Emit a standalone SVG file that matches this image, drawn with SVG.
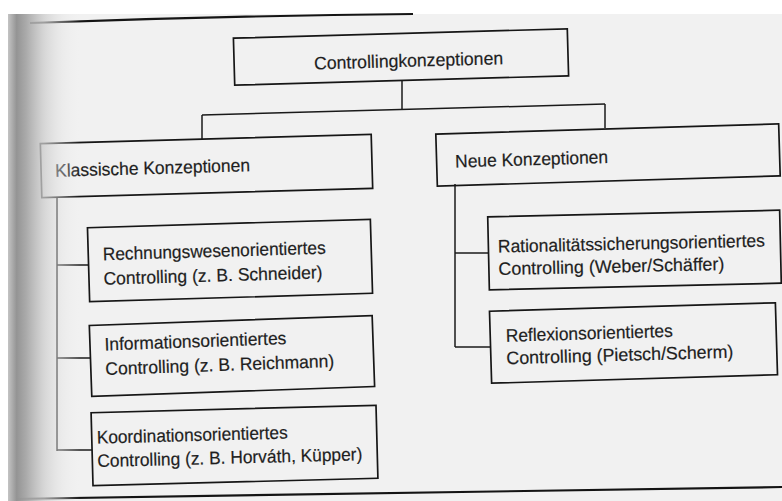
<svg xmlns="http://www.w3.org/2000/svg" width="782" height="501" viewBox="0 0 782 501">
<defs>
<linearGradient id="gutter" x1="0" y1="0" x2="1" y2="0">
<stop offset="0" stop-color="#c4c4c4" stop-opacity="1"/>
<stop offset="0.12" stop-color="#949494" stop-opacity="1"/>
<stop offset="0.25" stop-color="#a6a6a6" stop-opacity="0.95"/>
<stop offset="0.5" stop-color="#cdcdcd" stop-opacity="0.75"/>
<stop offset="0.75" stop-color="#e2e2e2" stop-opacity="0.4"/>
<stop offset="1" stop-color="#eeeeee" stop-opacity="0"/>
</linearGradient>
</defs>
<style>
.box{fill:none;stroke:#161616;stroke-width:1.7}
.t{font-family:"Liberation Sans",Arial,sans-serif;font-size:18px;fill:#1e1e1e;stroke:#1e1e1e;stroke-width:0.2}
.c{fill:none;stroke:#1a1a1a;stroke-width:1.5}
.edge{fill:none;stroke:#141414;stroke-width:2.2}
</style>
<rect x="0" y="0" width="782" height="501" fill="#ffffff"/>
<rect x="8" y="14" width="774" height="487" fill="#f1f1f1"/>
<path class="edge" d="M30,23 Q220,16 413,14"/>
<path class="edge" d="M10,499 L782,487"/>
<g id="connectors">
<line class="c" x1="402" y1="80" x2="402" y2="110"/>
<line class="c" x1="202" y1="115" x2="605" y2="104"/>
<line class="c" x1="202" y1="115" x2="202" y2="139"/>
<line class="c" x1="605" y1="104" x2="605" y2="128"/>
<line class="c" x1="57" y1="197" x2="57" y2="451"/>
<line class="c" x1="57" y1="265" x2="89" y2="265"/>
<line class="c" x1="57" y1="358" x2="91" y2="358"/>
<line class="c" x1="57" y1="450" x2="92" y2="450"/>
<line class="c" x1="455" y1="184" x2="455" y2="347"/>
<line class="c" x1="455" y1="253" x2="489" y2="253"/>
<line class="c" x1="455" y1="347" x2="491" y2="347"/>
</g>
<g id="root" transform="rotate(-1.6 401 57)">
<rect class="box" x="234" y="33.5" width="334" height="47"/>
<text class="t" x="314" y="67" textLength="189" lengthAdjust="spacingAndGlyphs">Controllingkonzeptionen</text>
</g>
<g id="klassisch" transform="rotate(-1.6 206 166)">
<rect class="box" x="41" y="139" width="331" height="54"/>
<text class="t" x="55" y="172.5" textLength="195" lengthAdjust="spacingAndGlyphs">Klassische Konzeptionen</text>
</g>
<g id="neu" transform="rotate(-1.7 608 155)">
<rect class="box" x="436.5" y="129" width="343" height="52"/>
<text class="t" x="455" y="163" textLength="153" lengthAdjust="spacingAndGlyphs">Neue Konzeptionen</text>
</g>
<g id="rechnungswesen" transform="rotate(-1.7 230 260.5)">
<rect class="box" x="88.5" y="223.5" width="283" height="74"/>
<text class="t" x="103" y="256.5" textLength="223" lengthAdjust="spacingAndGlyphs">Rechnungswesenorientiertes</text>
<text class="t" x="103" y="281" textLength="219" lengthAdjust="spacingAndGlyphs">Controlling (z. B. Schneider)</text>
</g>
<g id="information" transform="rotate(-2 232 357)">
<rect class="box" x="90.5" y="320.5" width="283" height="71"/>
<text class="t" x="105" y="346" textLength="182" lengthAdjust="spacingAndGlyphs">Informationsorientiertes</text>
<text class="t" x="105" y="370.5" textLength="229" lengthAdjust="spacingAndGlyphs">Controlling (z. B. Reichmann)</text>
</g>
<g id="koordination" transform="rotate(-1.5 234 445.5)">
<rect class="box" x="92" y="409" width="285" height="73"/>
<text class="t" x="97" y="440" textLength="191" lengthAdjust="spacingAndGlyphs">Koordinationsorientiertes</text>
<text class="t" x="97" y="463.5" textLength="265" lengthAdjust="spacingAndGlyphs">Controlling (z. B. Horváth, Küpper)</text>
</g>
<g id="rational" transform="rotate(-1.3 634 250)">
<rect class="box" x="488.5" y="213.5" width="292" height="73"/>
<text class="t" x="498" y="249.5" textLength="267" lengthAdjust="spacingAndGlyphs">Rationalitätssicherungsorientiertes</text>
<text class="t" x="498" y="272" textLength="226" lengthAdjust="spacingAndGlyphs">Controlling (Weber/Schäffer)</text>
</g>
<g id="reflexion" transform="rotate(-1.7 633 343)">
<rect class="box" x="490.5" y="307" width="286" height="72"/>
<text class="t" x="506" y="338" textLength="167" lengthAdjust="spacingAndGlyphs">Reflexionsorientiertes</text>
<text class="t" x="506" y="360.5" textLength="227" lengthAdjust="spacingAndGlyphs">Controlling (Pietsch/Scherm)</text>
</g>
<rect x="8" y="14" width="72" height="487" fill="url(#gutter)"/>
</svg>
